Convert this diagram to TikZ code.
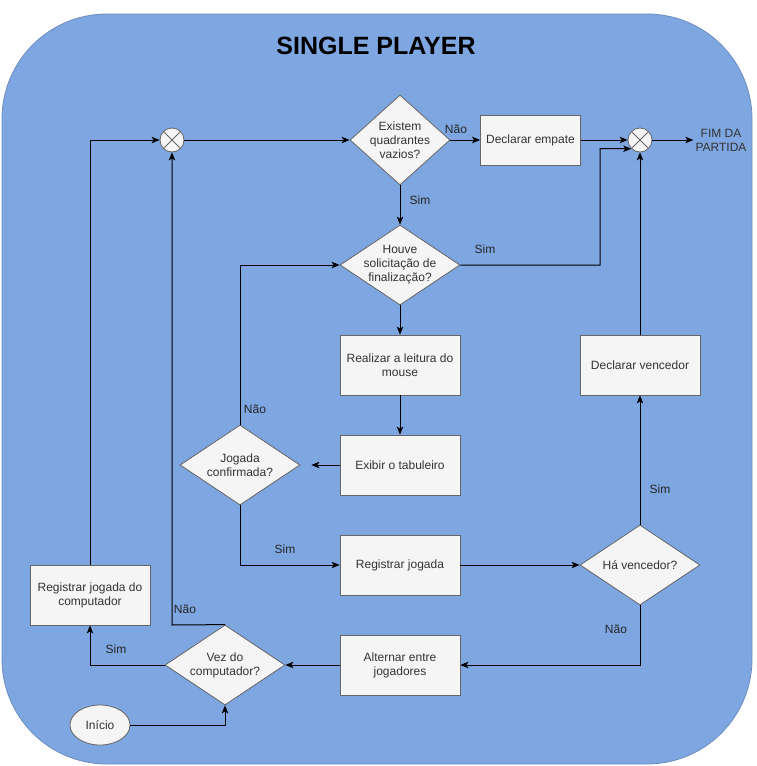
\documentclass[tikz,border=0pt]{standalone}
\usepackage{fontspec}
\setmainfont{Liberation Sans}
\usetikzlibrary{shapes.geometric,arrows.meta,calc}
\definecolor{bgblue}{HTML}{7EA6E0}
\definecolor{bgline}{HTML}{6C8EBF}
\definecolor{boxfill}{HTML}{F5F5F5}
\definecolor{boxline}{HTML}{666666}
\definecolor{boxtext}{HTML}{333333}
\begin{document}
\begin{tikzpicture}[x=1pt,y=-1pt,
  every node/.style={font=\fontsize{12}{14}\selectfont},
  procbox/.style={draw=boxline,fill=boxfill,text=boxtext,line width=0.8pt,
    minimum width=120pt,minimum height=60pt,align=center,inner sep=2pt},
  decbox/.style={draw=boxline,fill=boxfill,diamond,line width=0.8pt,
    minimum width=120pt,minimum height=80pt,inner sep=0pt},
  dtext/.style={text=boxtext,align=center,inner sep=0pt},
  junc/.style={circle,draw=boxline,fill=boxfill,line width=0.8pt,minimum size=24pt,inner sep=0pt,
    path picture={\draw[boxline,line width=0.8pt]
      ($(path picture bounding box.center)+(45:12pt)$) -- ($(path picture bounding box.center)+(225:12pt)$)
      ($(path picture bounding box.center)+(135:12pt)$) -- ($(path picture bounding box.center)+(315:12pt)$);}},
  lbl/.style={text=black!85,inner sep=1pt},
  arr/.style={line width=1pt,-{Stealth[length=8pt,width=6.5pt,inset=2pt]}}
]
\useasboundingbox (0,0) rectangle (756,766);
\fill[bgblue,draw=bgline,line width=0.8pt,rounded corners=105pt] (2,14) rectangle (752,764);
\node[font=\fontsize{25}{30}\selectfont\bfseries] (title) at (376,46) {SINGLE PLAYER};

% nodes
\node[junc] (j1) at (172,140) {};
\node[decbox,minimum width=100pt,minimum height=90pt] (d1) at (400,140) {};
\node[dtext] (d1t) at (d1.center) {Existem\\quadrantes\\vazios?};
\node[procbox,minimum width=100pt,minimum height=50pt] (emp) at (530.5,140) {Declarar empate};
\node[junc] (j2) at (640,140) {};
\node[text=boxtext,align=center,inner sep=2pt] (fim) at (721,140) {FIM DA\\PARTIDA};
\node[decbox] (d2) at (400,265) {};
\node[dtext] (d2t) at (d2.center) {Houve\\solicitação de\\finalização?};
\node[procbox] (leit) at (400,365) {Realizar a leitura do\\mouse};
\node[procbox] (exib) at (400,465) {Exibir o tabuleiro};
\node[decbox] (jog) at (240,465) {};
\node[dtext] (jogt) at (jog.center) {Jogada\\confirmada?};
\node[procbox] (reg) at (400,565) {Registrar jogada};
\node[decbox] (hav) at (640,565) {};
\node[dtext] (havt) at (hav.center) {Há vencedor?};
\node[procbox] (venc) at (640,365) {Declarar vencedor};
\node[procbox] (alt) at (400,665) {Alternar entre\\jogadores};
\node[decbox] (vez) at (225,665) {};
\node[dtext] (vezt) at (vez.center) {Vez do\\computador?};
\node[procbox] (regc) at (90,595) {Registrar jogada do\\computador};
\node[ellipse,draw=boxline,fill=boxfill,text=boxtext,line width=0.8pt,minimum width=60pt,minimum height=40pt,inner sep=0pt] (ini) at (100,725) {Início};

% connectors
\draw[arr] (j1) -- (d1);
\draw[arr] (d1) -- (emp);
\node[lbl] (l1) at (456,129) {Não};
\draw[arr] (emp) -- (j2);
\draw[arr] (j2) -- (fim);
\draw[arr] (d1) -- (d2);
\node[lbl] (l2) at (420,200) {Sim};
\draw[arr] (d2.east) -| (600,148.5) -- (j2.south west);
\node[lbl] (l3) at (485,249) {Sim};
\draw[arr] (venc) -- (j2);
\draw[arr] (d2) -- (leit);
\draw[arr] (leit) -- (exib);
\draw[arr,shorten >=11pt] (exib.west) -- (jog.east);
\draw[arr] (jog.north) |- (d2.west);
\node[lbl] (l4) at (255,409) {Não};
\draw[arr] (jog.south) |- (reg.west);
\node[lbl] (l5) at (285,549) {Sim};
\draw[arr] (reg) -- (hav);
\draw[arr] (hav) -- (venc);
\node[lbl] (l6) at (660,489) {Sim};
\draw[arr] (hav.south) |- (alt.east);
\node[lbl] (l7) at (616,629) {Não};
\draw[arr] (alt) -- (vez);
\draw[arr] (vez.west) -| (regc.south);
\node[lbl] (l8) at (116,649) {Sim};
\draw[arr] (vez.north) -- (172,625) -- (j1.south);
\node[lbl] (l9) at (185,609) {Não};
\draw[arr] (regc.north) |- (j1.west);
\draw[arr] (ini.east) -| (vez.south);
\end{tikzpicture}
\end{document}
